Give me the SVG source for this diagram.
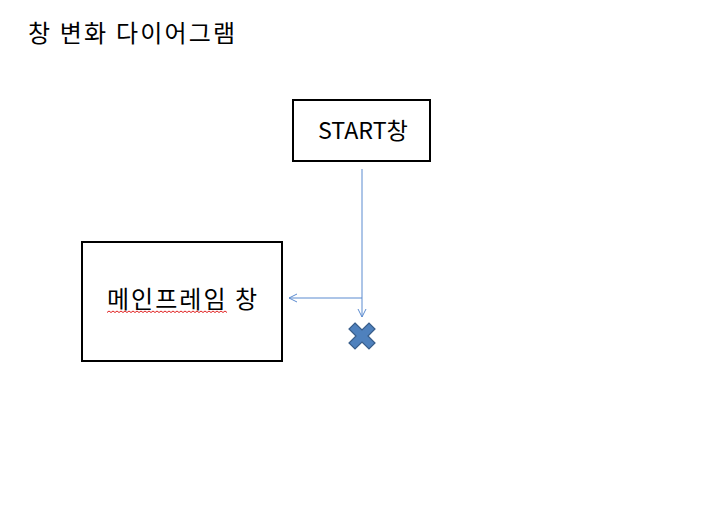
<svg xmlns="http://www.w3.org/2000/svg" width="703" height="509" viewBox="0 0 703 509">
<style>
.box{fill:#fff;stroke:#000;stroke-width:2}
.t{font-family:"Noto Sans CJK KR","Noto Sans",sans-serif;fill:#000}
.c{fill:none;stroke:#5b8bd0;stroke-width:1}
</style>
<defs>
<marker id="ah" markerWidth="10" markerHeight="10" refX="9" refY="5" orient="auto" markerUnits="userSpaceOnUse">
<path d="M1,1 L9,5 L1,9" fill="none" stroke="#5b8bd0" stroke-width="1"/>
</marker>
</defs>
<rect width="703" height="509" fill="#fff"/>
<text class="t" x="28" y="42" font-size="24" textLength="207" lengthAdjust="spacing">창 변화 다이어그램</text>
<g id="start">
<rect class="box" x="293" y="100" width="137" height="61"/>
<text class="t" x="318" y="139" font-size="23" textLength="90" lengthAdjust="spacingAndGlyphs">START창</text>
</g>
<g id="main">
<rect class="box" x="82" y="242" width="200" height="119"/>
<text class="t" x="107" y="308" font-size="24" textLength="150" lengthAdjust="spacing">메인프레임 창</text>
<path d="M107,312.5 l2,-1.5 l2,1.5 l2,-1.5 l2,1.5 l2,-1.5 l2,1.5 l2,-1.5 l2,1.5 l2,-1.5 l2,1.5 l2,-1.5 l2,1.5 l2,-1.5 l2,1.5 l2,-1.5 l2,1.5 l2,-1.5 l2,1.5 l2,-1.5 l2,1.5 l2,-1.5 l2,1.5 l2,-1.5 l2,1.5 l2,-1.5 l2,1.5 l2,-1.5 l2,1.5 l2,-1.5 l2,1.5 l2,-1.5 l2,1.5 l2,-1.5 l2,1.5 l2,-1.5 l2,1.5 l2,-1.5 l2,1.5 l2,-1.5 l2,1.5 l2,-1.5 l2,1.5 l2,-1.5 l2,1.5 l2,-1.5 l2,1.5 l2,-1.5 l2,1.5 l2,-1.5 l2,1.5 l2,-1.5 l2,1.5 l2,-1.5 l2,1.5 l2,-1.5 l2,1.5 l2,-1.5 l2,1.5 l2,-1.5 l2,1.5" fill="none" stroke="#e02020" stroke-width="1"/>
</g>
<g id="end">
<path d="M355,323 L362,330 L369,323 L375,329 L368,336 L375,343 L369,349 L362,342 L355,349 L349,343 L356,336 L349,329 Z" fill="#4f81bd" stroke="#385d8a" stroke-width="1.2"/>
</g>
<g id="connectors">
<path class="c" d="M362,169 L362,317" marker-end="url(#ah)"/>
<path class="c" d="M362,298 L289,298" marker-end="url(#ah)"/>
</g>
</svg>
